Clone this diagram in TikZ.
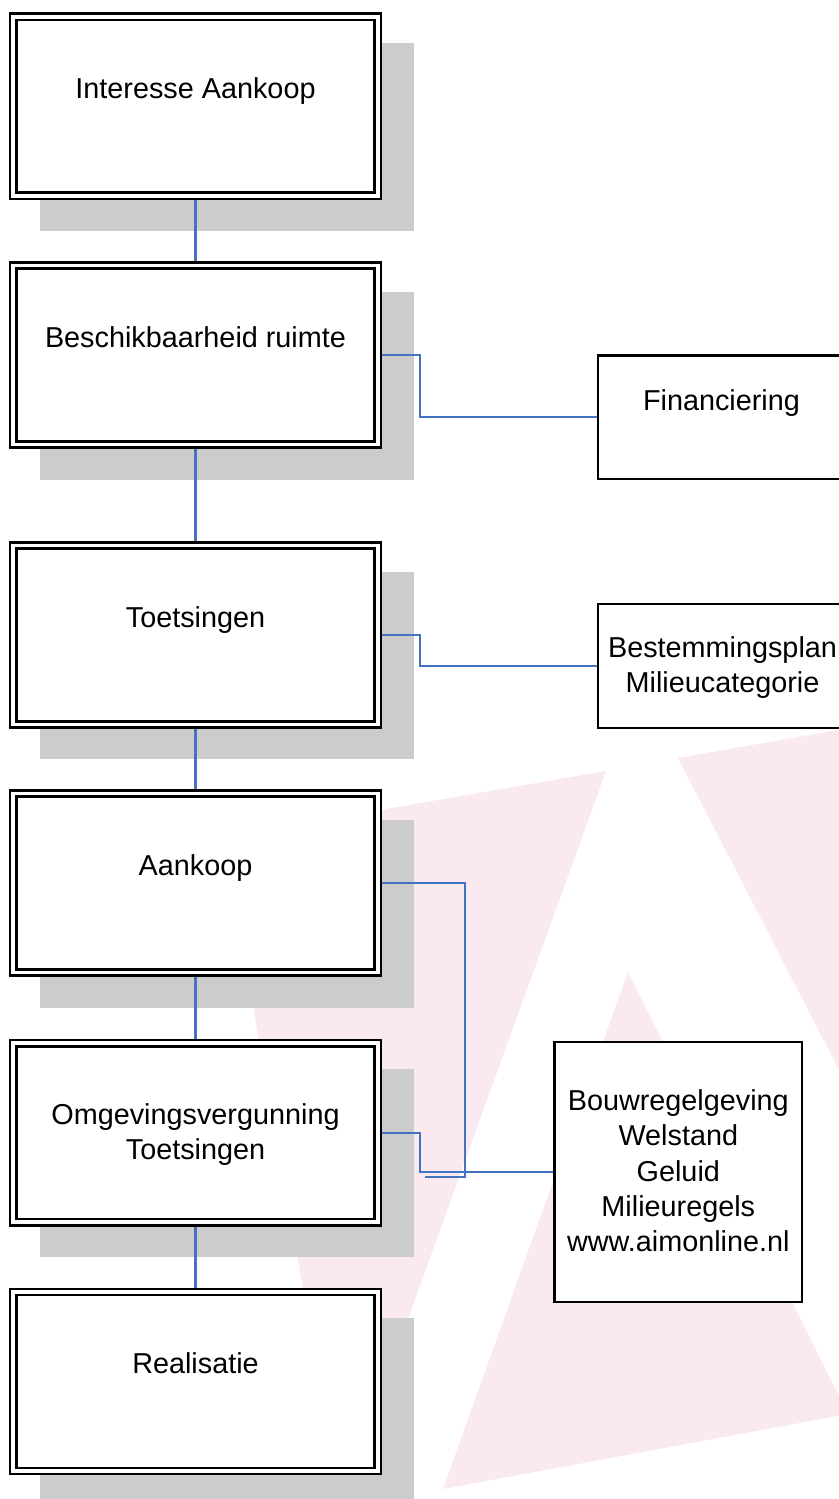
\documentclass[tikz,border=0pt]{standalone}
\usepackage{fontspec}
\setmainfont{Liberation Sans}
\definecolor{pinkbg}{RGB}{250,233,238}
\definecolor{shadowc}{RGB}{204,204,204}
\definecolor{connc}{RGB}{68,114,196}
\pgfdeclarelayer{bg}
\pgfdeclarelayer{shad}
\pgfsetlayers{bg,shad,main}
\begin{document}
\begin{tikzpicture}[x=1pt,y=-1pt,
  mainbox/.style={draw=black, fill=white, line width=2.6pt, double=white, double distance=3.7pt,
    minimum width=364.7pt, minimum height=179pt, inner sep=0pt, outer sep=4.45pt},
  sidebox/.style={draw=black, fill=white, line width=2.6pt, inner sep=0pt, outer sep=1.3pt},
  txt/.style={font=\fontsize{28.8}{35}\selectfont, anchor=base, inner sep=0pt},
  conn/.style={draw=connc, line width=2.2pt}]
\useasboundingbox (0,0) rectangle (838,1499);

% main boxes
\node[mainbox] (b1) at (195.5,106.4) {};
\node[mainbox] (b2) at (195.5,355.1) {};
\node[mainbox] (b3) at (195.5,635.0) {};
\node[mainbox] (b4) at (195.5,883.1) {};
\node[mainbox] (b5) at (195.5,1132.7) {};
\node[mainbox] (b6) at (195.5,1381.5) {};

\node[txt] (t1) at (195.5,98.4) {Interesse Aankoop};
\node[txt] (t2) at (195.5,347.1) {Beschikbaarheid ruimte};
\node[txt] (t3) at (195.5,627.0) {Toetsingen};
\node[txt] (t4) at (195.5,875.1) {Aankoop};
\node[txt] (t5a) at (195.5,1124.7) {Omgevingsvergunning};
\node[txt] (t5b) at (195.5,1159.5) {Toetsingen};
\node[txt] (t6) at (195.5,1373.5) {Realisatie};

% side boxes
\node[sidebox, minimum width=247pt, minimum height=123.7pt] (fin) at (721.5,417.2) {};
\node[sidebox, minimum width=247pt, minimum height=124pt] (best) at (721.5,666) {};
\node[sidebox, minimum width=247.3pt, minimum height=260pt] (bouw) at (678.3,1172) {};

\node[txt] (tf) at (721.5,410) {Financiering};
\node[txt] (tba) at (722.5,657) {Bestemmingsplan};
\node[txt] (tbb) at (722.5,692) {Milieucategorie};
\node[txt] (tw1) at (678.3,1110) {Bouwregelgeving};
\node[txt] (tw2) at (678.3,1145.5) {Welstand};
\node[txt] (tw3) at (678.3,1181) {Geluid};
\node[txt] (tw4) at (678.3,1216.5) {Milieuregels};
\node[txt] (tw5) at (678.3,1251.5) {www.aimonline.nl};

% shadows
\begin{pgfonlayer}{shad}
\foreach \n in {b1,b2,b3,b4,b5,b6}
  \fill[shadowc] ([shift={(31.3,30.45)}]\n.south west) rectangle ([shift={(31.3,30.45)}]\n.north east);
\end{pgfonlayer}

% background logo
\begin{pgfonlayer}{bg}
\fill[pinkbg] (606,771) -- (223,837) -- (341,1504) -- cycle;
\fill[pinkbg] (678,758) -- (900,719) -- (900,1188) -- cycle;
\fill[pinkbg] (628,972) -- (848,1414) -- (443,1489) -- cycle;
\end{pgfonlayer}

% connectors
\draw[conn] (b1.south) -- (b2.north);
\draw[conn] (b2.south) -- (b3.north);
\draw[conn] (b3.south) -- (b4.north);
\draw[conn] (b4.south) -- (b5.north);
\draw[conn] (b5.south) -- (b6.north);
\draw[conn] (b2.east) -- ++(38,0) |- (fin.west);
\draw[conn] (b3.east) -- ++(38,0) |- (best.west);
\coordinate (k4) at (465,1177);
\coordinate (dangle) at (425,1177);
\draw[conn] (b4.east) -| (k4) -- (dangle);
\draw[conn] (b5.east) -- ++(38,0) |- (bouw.west);
\end{tikzpicture}
\end{document}
